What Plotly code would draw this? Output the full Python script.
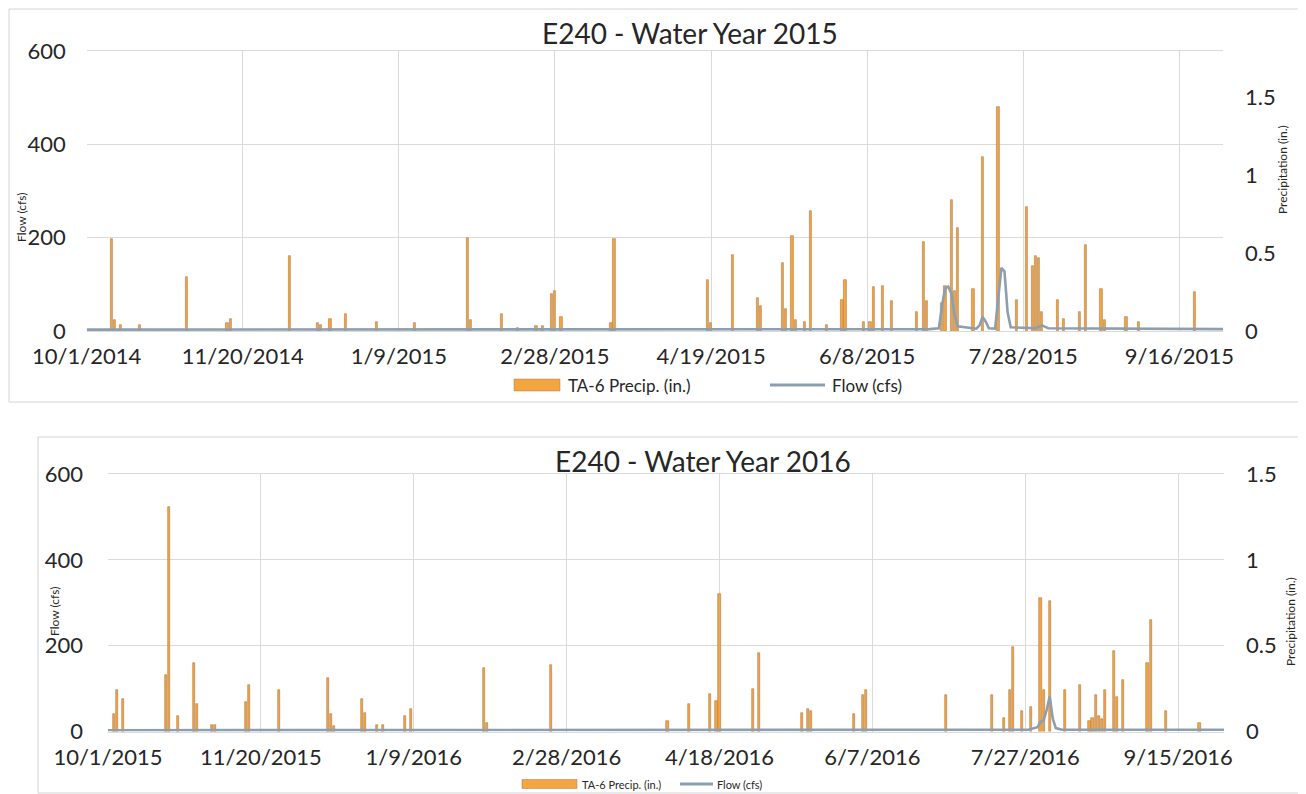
import plotly.graph_objects as go

# ---------------- data: water year 2015 ----------------
ticks_2015 = ["2014-10-01", "2014-11-20", "2015-01-09", "2015-02-28",
              "2015-04-19", "2015-06-08", "2015-07-28", "2015-09-16"]
ticktext_2015 = ["10/1/2014", "11/20/2014", "1/9/2015", "2/28/2015",
                 "4/19/2015", "6/8/2015", "7/28/2015", "9/16/2015"]

precip_dates_2015 = [
    "2014-10-09", "2014-10-10", "2014-10-12", "2014-10-18", "2014-11-02",
    "2014-11-15", "2014-11-16", "2014-12-05", "2014-12-14", "2014-12-15",
    "2014-12-18", "2014-12-23", "2015-01-02", "2015-01-14", "2015-01-31",
    "2015-02-01", "2015-02-11", "2015-02-16", "2015-02-22", "2015-02-24",
    "2015-02-27", "2015-02-28", "2015-03-02", "2015-03-18", "2015-03-19",
    "2015-04-18", "2015-04-19", "2015-04-26", "2015-05-04", "2015-05-05",
    "2015-05-12", "2015-05-13", "2015-05-15", "2015-05-16", "2015-05-19",
    "2015-05-21", "2015-05-26", "2015-05-31", "2015-06-01", "2015-06-07",
    "2015-06-09", "2015-06-10", "2015-06-13", "2015-06-16", "2015-06-24",
    "2015-06-26", "2015-06-27", "2015-07-02", "2015-07-03", "2015-07-05",
    "2015-07-06", "2015-07-07", "2015-07-12", "2015-07-15", "2015-07-20",
    "2015-07-26", "2015-07-29", "2015-07-31", "2015-08-01", "2015-08-02",
    "2015-08-03", "2015-08-08", "2015-08-10", "2015-08-15", "2015-08-17",
    "2015-08-22", "2015-08-23", "2015-08-30", "2015-09-03", "2015-09-21",
]
precip_in_2015 = [
    0.59, 0.07, 0.04, 0.04, 0.35,
    0.05, 0.08, 0.48, 0.05, 0.04,
    0.08, 0.11, 0.06, 0.05, 0.60,
    0.07, 0.11, 0.02, 0.03, 0.03,
    0.24, 0.26, 0.09, 0.05, 0.59,
    0.33, 0.05, 0.49, 0.21, 0.16,
    0.44, 0.14, 0.61, 0.07, 0.06,
    0.77, 0.04, 0.20, 0.33, 0.06,
    0.06, 0.28, 0.29, 0.19, 0.12,
    0.57, 0.19, 0.18, 0.29, 0.84,
    0.26, 0.66, 0.27, 1.12, 1.44,
    0.20, 0.80, 0.42, 0.48, 0.47,
    0.12, 0.20, 0.08, 0.12, 0.55,
    0.27, 0.07, 0.09, 0.06, 0.25,
]

flow_dates_2015 = [
    "2014-10-01", "2015-06-28", "2015-07-01", "2015-07-02", "2015-07-03",
    "2015-07-04", "2015-07-05", "2015-07-06", "2015-07-07", "2015-07-13",
    "2015-07-14", "2015-07-15", "2015-07-16", "2015-07-17", "2015-07-19",
    "2015-07-20", "2015-07-21", "2015-07-22", "2015-07-23", "2015-07-24",
    "2015-08-01", "2015-08-03", "2015-08-05", "2015-09-30",
]
flow_cfs_2015 = [
    3, 4, 6, 55, 92,
    95, 80, 35, 10, 5,
    12, 30, 20, 6, 5,
    70, 135, 128, 40, 8,
    6, 12, 6, 4,
]

# ---------------- data: water year 2016 ----------------
ticks_2016 = ["2015-10-01", "2015-11-20", "2016-01-09", "2016-02-28",
              "2016-04-18", "2016-06-07", "2016-07-27", "2016-09-15"]
ticktext_2016 = ["10/1/2015", "11/20/2015", "1/9/2016", "2/28/2016",
                 "4/18/2016", "6/7/2016", "7/27/2016", "9/15/2016"]

precip_dates_2016 = [
    "2015-10-03", "2015-10-04", "2015-10-06", "2015-10-20", "2015-10-21",
    "2015-10-24", "2015-10-29", "2015-10-30", "2015-11-04", "2015-11-05",
    "2015-11-15", "2015-11-16", "2015-11-26", "2015-12-12", "2015-12-13",
    "2015-12-14", "2015-12-23", "2015-12-24", "2015-12-28", "2015-12-30",
    "2016-01-06", "2016-01-08", "2016-02-01", "2016-02-02", "2016-02-23",
    "2016-04-01", "2016-04-08", "2016-04-15", "2016-04-17", "2016-04-18",
    "2016-04-29", "2016-05-01", "2016-05-15", "2016-05-17", "2016-05-18",
    "2016-06-01", "2016-06-04", "2016-06-05", "2016-07-01", "2016-07-16",
    "2016-07-20", "2016-07-22", "2016-07-23", "2016-07-26", "2016-07-29",
    "2016-08-01", "2016-08-02", "2016-08-04", "2016-08-09", "2016-08-14",
    "2016-08-17", "2016-08-18", "2016-08-19", "2016-08-20", "2016-08-21",
    "2016-08-22", "2016-08-25", "2016-08-26", "2016-08-28", "2016-09-05",
    "2016-09-06", "2016-09-11", "2016-09-22",
]
precip_in_2016 = [
    0.10, 0.24, 0.19, 0.33, 1.31,
    0.09, 0.40, 0.16, 0.04, 0.04,
    0.17, 0.27, 0.24, 0.31, 0.10,
    0.03, 0.19, 0.11, 0.04, 0.04,
    0.09, 0.13, 0.37, 0.05, 0.39,
    0.06, 0.16, 0.22, 0.18, 0.80,
    0.25, 0.46, 0.11, 0.13, 0.12,
    0.10, 0.21, 0.24, 0.21, 0.21,
    0.08, 0.24, 0.49, 0.12, 0.14,
    0.78, 0.24, 0.76, 0.24, 0.27,
    0.06, 0.08, 0.21, 0.09, 0.07,
    0.24, 0.47, 0.20, 0.30, 0.40,
    0.65, 0.12, 0.05,
]

flow_dates_2016 = [
    "2015-10-01", "2016-07-28", "2016-07-31", "2016-08-01", "2016-08-02",
    "2016-08-03", "2016-08-04", "2016-08-05", "2016-08-06", "2016-08-08",
    "2016-09-30",
]
flow_cfs_2016 = [3, 4, 10, 22, 26, 50, 82, 30, 8, 4, 4]

# ---------------- styling ----------------
W, H = 1306, 794
OFF = 8  # the page body adds an 8px margin, so positions are given in window pixels
ORANGE = "#f3a53f"
EDGE = "#b07a4c"
GREY = "#8d9eae"
GRID = "#dadada"
TXT = "#262626"
FONT = "Lato"
BAR_MS = 0.7 * 86400000


def fx(px):
    return (px - OFF) / W


def fy(px):
    return 1 - (px - OFF) / H


fig = go.Figure()

for dates, vals, fd, fv, xa, ya_p, ya_f in [
    (precip_dates_2015, precip_in_2015, flow_dates_2015, flow_cfs_2015, "x", "y", "y2"),
    (precip_dates_2016, precip_in_2016, flow_dates_2016, flow_cfs_2016, "x2", "y3", "y4"),
]:
    fig.add_trace(go.Bar(
        x=dates, y=vals, xaxis=xa, yaxis=ya_p, width=BAR_MS,
        marker=dict(color=ORANGE, line=dict(color=EDGE, width=0.6)),
        name="TA-6 Precip. (in.)", showlegend=False))
    fig.add_trace(go.Scatter(
        x=fd, y=fv, xaxis=xa, yaxis=ya_f, mode="lines",
        line=dict(color=GREY, width=2.6),
        name="Flow (cfs)", showlegend=False))

tick_font = dict(family=FONT, size=22, color=TXT)

common_x = dict(type="date", showgrid=True, gridcolor=GRID, gridwidth=1,
                ticks="", tickfont=tick_font, showline=True, mirror=True,
                linecolor=GRID, zeroline=False, automargin=False)
common_left = dict(side="left", range=[0, 600], tickvals=[0, 200, 400, 600],
                   showgrid=True, gridcolor=GRID, zeroline=False, ticks="",
                   tickfont=tick_font, showline=False, automargin=False)
common_right = dict(side="right", showgrid=False, zeroline=False, ticks="",
                    tickfont=tick_font, showline=False, automargin=False)

fig.update_layout(
    template="none",
    width=W, height=H,
    margin=dict(l=0, r=0, t=0, b=0, autoexpand=False),
    paper_bgcolor="white", plot_bgcolor="white",
    barmode="overlay", bargap=0,
    font=dict(family=FONT, color=TXT),
    xaxis=dict(common_x, domain=[fx(86.7), fx(1223)], anchor="y",
               range=["2014-10-01", "2015-09-30"],
               tickvals=ticks_2015, ticktext=ticktext_2015,
               ticklabelstandoff=6),
    yaxis=dict(common_right, domain=[fy(331), fy(51)], anchor="x",
               range=[0, 1.8], tickvals=[0, 0.5, 1, 1.5],
               ticktext=["0", "0.5", "1", "1.5"], ticklabelstandoff=21),
    yaxis2=dict(common_left, overlaying="y", anchor="x",
                ticklabelstandoff=20),
    xaxis2=dict(common_x, domain=[fx(108), fx(1224)], anchor="y3",
                range=["2015-10-01", "2016-09-30"],
                tickvals=ticks_2016, ticktext=ticktext_2016,
                ticklabelstandoff=6),
    yaxis3=dict(common_right, domain=[fy(731.5), fy(474)], anchor="x2",
                range=[0, 1.5], tickvals=[0, 0.5, 1, 1.5],
                ticktext=["0", "0.5", "1", "1.5"], ticklabelstandoff=21),
    yaxis4=dict(common_left, overlaying="y3", anchor="x2",
                ticklabelstandoff=24),
)


def label(x, y, text, size, angle=0, xanchor="center"):
    fig.add_annotation(x=fx(x), y=fy(y), xref="paper", yref="paper",
                       text=text, showarrow=False, textangle=angle,
                       xanchor=xanchor, yanchor="middle",
                       font=dict(family=FONT, size=size, color=TXT))


# titles
label(690, 33, "E240 - Water Year 2015", 28)
label(703, 461, "E240 - Water Year 2016", 28)

# axis titles
label(21, 218, "Flow (cfs)", 12, -90)
label(1283, 170, "Precipitation (in.)", 12, -90)
label(54, 612, "Flow (cfs)", 12, -90)
label(1290, 622, "Precipitation (in.)", 12, -90)

# legends (drawn by hand to get the wide Excel swatches)
for (rx0, rx1, ry, rh, tx, lx0, lx1, fx_text, fsize) in [
    (514, 560, 385, 12, 566, 770, 825, 830, 17),
    (522, 577, 784, 9, 580, 680, 713, 715, 11),
]:
    fig.add_shape(type="rect", xref="paper", yref="paper",
                  x0=fx(rx0), x1=fx(rx1), y0=fy(ry + rh / 2), y1=fy(ry - rh / 2),
                  fillcolor=ORANGE, line=dict(color=EDGE, width=0.5))
    label(tx, ry, "TA-6 Precip. (in.)", fsize, xanchor="left")
    fig.add_shape(type="line", xref="paper", yref="paper",
                  x0=fx(lx0), x1=fx(lx1), y0=fy(ry), y1=fy(ry),
                  line=dict(color=GREY, width=3))
    label(fx_text, ry, "Flow (cfs)", fsize, xanchor="left")

# chart frames
fig.add_shape(type="rect", xref="paper", yref="paper",
              x0=fx(9), x1=fx(1301), y0=fy(402), y1=fy(9),
              line=dict(color="#d4d4d4", width=1), layer="below")
fig.add_shape(type="rect", xref="paper", yref="paper",
              x0=fx(38), x1=fx(1302), y0=fy(793), y1=fy(437),
              line=dict(color="#d4d4d4", width=1), layer="below")

fig.write_html("out.html")
